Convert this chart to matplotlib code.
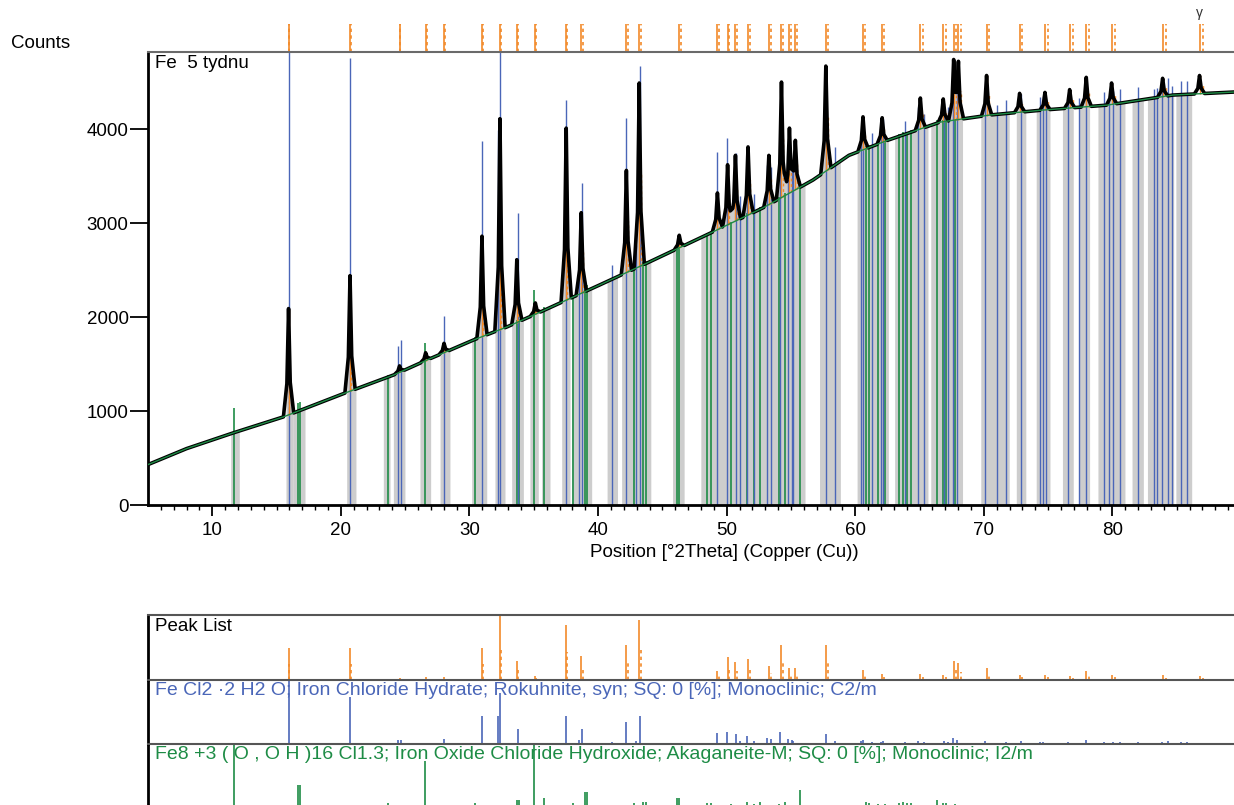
import numpy as np
import matplotlib
matplotlib.use("Agg")
import matplotlib.pyplot as plt
from matplotlib.transforms import blended_transform_factory

plt.rcParams['font.family'] = ['Liberation Sans', 'DejaVu Sans']

W, H = 1234, 805
XMIN, XMAX = 5.0, 89.45
FS = 13.5

# ── dane ─────────────────────────────────────────────────────────────────────
# tło (zielona linia)
bg_pos = [5.0, 8.0, 11.6, 15.5, 19.9, 24.1, 26.7, 30.3, 32.9, 35.5, 40.1, 43.8,
          48.9, 52.8, 56.7, 59.5, 62.5, 66.6, 70.5, 74.4, 79.6, 84.7, 89.45]
bg_cnt = [430, 600, 766, 936, 1170, 1383, 1543, 1755, 1894, 2053, 2340, 2574,
          2904, 3160, 3457, 3720, 3880, 4074, 4150, 4200, 4255, 4362, 4394]

# lista pików (K-alpha1): pozycja, szczyt [counts], intensywność wzgl. [%]
pk_pos = [15.93, 20.71, 24.56, 26.59, 28.02, 30.97, 32.37, 33.68, 35.12, 37.52,
          38.69, 42.20, 43.20, 46.31, 49.28, 50.07, 50.68, 51.66, 53.28, 54.26,
          54.88, 55.34, 57.71, 60.60, 62.09, 65.06, 66.84, 67.65, 68.02, 70.21,
          72.78, 74.75, 76.67, 77.96, 79.93, 83.90, 86.77]
pk_top = [2090, 2440, 1480, 1620, 1720, 2860, 4110, 2610, 2150, 4010,
          3110, 3560, 4490, 2870, 3320, 3620, 3720, 3810, 3720, 4500,
          4010, 3880, 4670, 4130, 4120, 4330, 4320, 4720, 4700, 4570,
          4380, 4390, 4420, 4550, 4490, 4540, 4570]
pk_rel = [49, 49, 3, 4, 4, 49, 98, 30, 6, 85,
          37, 54, 92, 2, 14, 36, 28, 33, 22, 54,
          19, 18, 54, 16, 10, 10, 8, 30, 26, 19,
          8, 8, 6, 14, 8, 7, 6]

# wzorzec 1: Fe Cl2 . 2 H2 O (Rokuhnite)
blue_pos = [15.96, 20.71, 24.47, 24.65, 28.02, 30.95, 32.24, 32.37, 33.75, 37.50,
            38.52, 38.78, 41.12, 42.17, 42.97, 43.27, 49.25, 50.03, 50.70, 51.07,
            51.60, 52.10, 53.11, 53.45, 54.17, 54.79, 55.05, 55.19, 57.69, 58.43,
            60.45, 60.57, 61.27, 61.97, 62.13, 63.87, 64.88, 65.34, 66.87, 67.23,
            67.62, 67.88, 70.12, 70.99, 71.74, 72.88, 74.38, 74.60, 74.86, 76.53,
            77.42, 77.93, 79.34, 79.74, 80.04, 80.62, 82.01, 83.20, 83.50, 83.82,
            84.30, 84.60, 85.30, 85.76]
blue_rel = [100, 73, 6, 7, 8, 43, 44, 80, 24, 44,
            7, 24, 3, 34, 5, 44, 17, 19, 15, 5,
            13, 4, 9, 8, 18, 8, 6, 5, 16, 4,
            4, 7, 3, 3, 5, 3, 5, 3, 4, 3,
            9, 6, 4, 2, 3, 4, 3, 3, 2, 3,
            2, 6, 3, 2, 3, 3, 3, 2, 2, 3,
            4, 2, 3, 3]

# wzorzec 2: Akaganeite-M
green_pos = [11.66, 16.64, 16.82, 23.69, 26.54, 30.43, 33.67, 33.85, 35.04, 35.82,
             38.02, 38.98, 39.11, 42.81, 43.52, 43.72, 46.11, 46.30, 48.47, 48.80,
             50.30, 51.55, 52.12, 52.59, 54.07, 54.57, 55.67, 60.83, 61.09, 61.79,
             62.31, 63.40, 63.73, 63.99, 64.31, 66.33, 66.79, 67.05, 67.75]
green_rel = [100, 36, 36, 8, 73, 8, 12, 12, 100, 15,
             8, 25, 25, 8, 10, 10, 16, 16, 8, 8,
             6, 10, 6, 10, 6, 10, 28, 10, 8, 6,
             6, 8, 10, 8, 8, 12, 8, 8, 6]

# szare obszary
band_lo = [11.43, 15.73, 16.30, 20.45, 23.30, 24.08, 26.15, 27.71, 30.17, 31.98,
           33.28, 34.70, 35.61, 37.17, 37.94, 40.70, 41.83, 45.79, 47.99, 57.22,
           60.14, 63.06, 65.87, 69.76, 72.52, 74.07, 76.11, 77.38, 78.87, 81.52,
           82.72, 84.93]
band_hi = [12.10, 16.30, 17.21, 21.17, 23.82, 24.98, 26.98, 28.48, 31.34, 32.76,
           34.19, 35.35, 36.26, 37.82, 39.50, 41.51, 44.10, 46.69, 56.09, 58.84,
           62.57, 65.65, 68.34, 71.97, 73.26, 75.14, 76.95, 78.22, 80.97, 82.40,
           84.76, 86.16]

BLUE, GREEN, ORANGE, GRAY = '#4a66b8', '#1e8c46', '#f28a2a', '#cdcdcd'
BLUE_SCALE, GREEN_SCALE = 48.5, 2.6     # counts na 1 % w głównym wykresie
LAM1, LAM2 = 1.540598, 1.544426


def bg(x):
    return np.interp(x, bg_pos, bg_cnt)


def ka2(pos):
    th = np.radians(np.asarray(pos) / 2)
    return 2 * np.degrees(np.arcsin(np.sin(th) * LAM2 / LAM1))


# profil pomiaru: tło + trójkątne piki w punktach
knots = set(bg_pos)
for p in pk_pos:
    knots.update([p - 0.4, p - 0.13, p, p + 0.13, p + 0.4])
xs = np.array(sorted(k for k in knots if XMIN <= k <= XMAX))
ys = bg(xs)
for p, t in zip(pk_pos, pk_top):
    net = t - bg(p)
    ys = ys + np.interp(xs, [p - 0.4, p - 0.13, p, p + 0.13, p + 0.4],
                        [0, 0.3 * net, net, 0.3 * net, 0], left=0, right=0)

fig = plt.figure(figsize=(W / 100, H / 100), dpi=100)
ax = fig.add_axes([148 / W, 1 - 505 / H, 1 - 148 / W, 453 / H])

for lo, hi in zip(band_lo, band_hi):
    xb = np.concatenate([[lo], xs[(xs > lo) & (xs < hi)], [hi]])
    ax.fill_between(xb, 0, np.interp(xb, xs, ys), color=GRAY, lw=0, zorder=1)

ax.vlines(green_pos, 0, bg(green_pos) + np.array(green_rel) * GREEN_SCALE,
          color=GREEN, lw=1.2, zorder=2)
ax.vlines(blue_pos, 0, bg(blue_pos) + np.array(blue_rel) * BLUE_SCALE,
          color=BLUE, lw=1.0, zorder=2)

pk_bg = bg(pk_pos)
ax.vlines(pk_pos, pk_bg, pk_top, color=ORANGE, lw=1.0, zorder=3)
ax.vlines(ka2(pk_pos), bg(ka2(pk_pos)),
          bg(ka2(pk_pos)) + 0.5 * (np.array(pk_top) - pk_bg),
          color=ORANGE, lw=1.0, linestyles=(0, (2, 2)), zorder=3)

ax.plot(xs, ys, color='black', lw=2.6, zorder=4)
ax.plot(bg_pos, bg_cnt, color=GREEN, lw=1.0, zorder=5)

# znaczniki pików nad wykresem
trans = blended_transform_factory(ax.transData, ax.transAxes)
ax.vlines(pk_pos, 1.0, 1 + 28 / 453, transform=trans, clip_on=False,
          color=ORANGE, lw=1.2)
ax.vlines(ka2(pk_pos), 1.0, 1 + 28 / 453, transform=trans, clip_on=False,
          color=ORANGE, lw=1.2, linestyles=(0, (2, 2)))
ax.text(pk_pos[-1], 1 + 39 / 453, 'γ', transform=trans, ha='center',
        va='center', fontsize=10, color='#333333')

ax.set_xlim(XMIN, XMAX)
ax.set_ylim(0, 4820)
ax.set_yticks([0, 1000, 2000, 3000, 4000])
ax.set_xticks(range(10, 90, 10))
ax.set_xticks(range(6, 90), minor=True)
ax.tick_params(axis='x', which='major', direction='out', length=8,
               width=1.3, labelsize=FS, pad=4)
ax.tick_params(axis='x', which='minor', direction='out', length=3.6, width=1.0)
ax.tick_params(axis='y', which='major', direction='out', length=13,
               width=1.3, labelsize=FS, pad=1)
for s in ['left', 'bottom']:
    ax.spines[s].set_linewidth(2)
    ax.spines[s].set_color('black')
ax.spines['top'].set_color('#6a6a6a')
ax.spines['top'].set_linewidth(1.5)
ax.spines['right'].set_visible(False)
ax.text(7 / 1086, (505 - 68) / 453, 'Fe  5 tydnu', transform=ax.transAxes,
        ha='left', va='baseline', fontsize=FS)

fig.text(11 / W, 1 - 47.5 / H, 'Counts', ha='left', va='baseline', fontsize=FS)
fig.text(724 / W, 1 - 557 / H, 'Position [°2Theta] (Copper (Cu))',
         ha='center', va='baseline', fontsize=FS)


# ── panele z listą pików i wzorcami ──────────────────────────────────────────
def panel(y_top, y_bot, label, color, base, fs):
    a = fig.add_axes([148 / W, 1 - y_bot / H, 1 - 148 / W, (y_bot - y_top) / H])
    a.set_xlim(XMIN, XMAX)
    a.set_ylim(0, 100)
    a.set_xticks([])
    a.set_yticks([])
    a.patch.set_alpha(0)
    a.spines['left'].set_linewidth(2)
    a.spines['left'].set_color('black')
    a.spines['top'].set_color('#555555')
    a.spines['top'].set_linewidth(1.5)
    a.spines['bottom'].set_visible(False)
    a.spines['right'].set_visible(False)
    a.text(7 / 1086, (y_bot - base) / (y_bot - y_top), label,
           transform=a.transAxes, ha='left', va='baseline',
           fontsize=fs, color=color, zorder=1)
    return a


p1 = panel(615, 680, 'Peak List', 'black', 631, FS)
p1.vlines(pk_pos, 0, pk_rel, color=ORANGE, lw=1.2)
p1.vlines(ka2(pk_pos), 0, 0.5 * np.array(pk_rel), color=ORANGE, lw=1.2,
          linestyles=(0, (2, 2)))

p2 = panel(680, 744, 'Fe Cl2 ·2 H2 O; Iron Chloride Hydrate; Rokuhnite, syn; '
           'SQ: 0 [%]; Monoclinic; C2/m', BLUE, 695, 14)
p2.vlines(blue_pos, 0, blue_rel, color=BLUE, lw=1.2)

p3 = panel(744, 808, 'Fe8 +3 ( O , O H )16 Cl1.3; Iron Oxide Chloride Hydroxide; '
           'Akaganeite-M; SQ: 0 [%]; Monoclinic; I2/m', GREEN, 759, 14)
p3.vlines(green_pos, 0, green_rel, color=GREEN, lw=1.2)

fig.savefig('out.png', dpi=100)
